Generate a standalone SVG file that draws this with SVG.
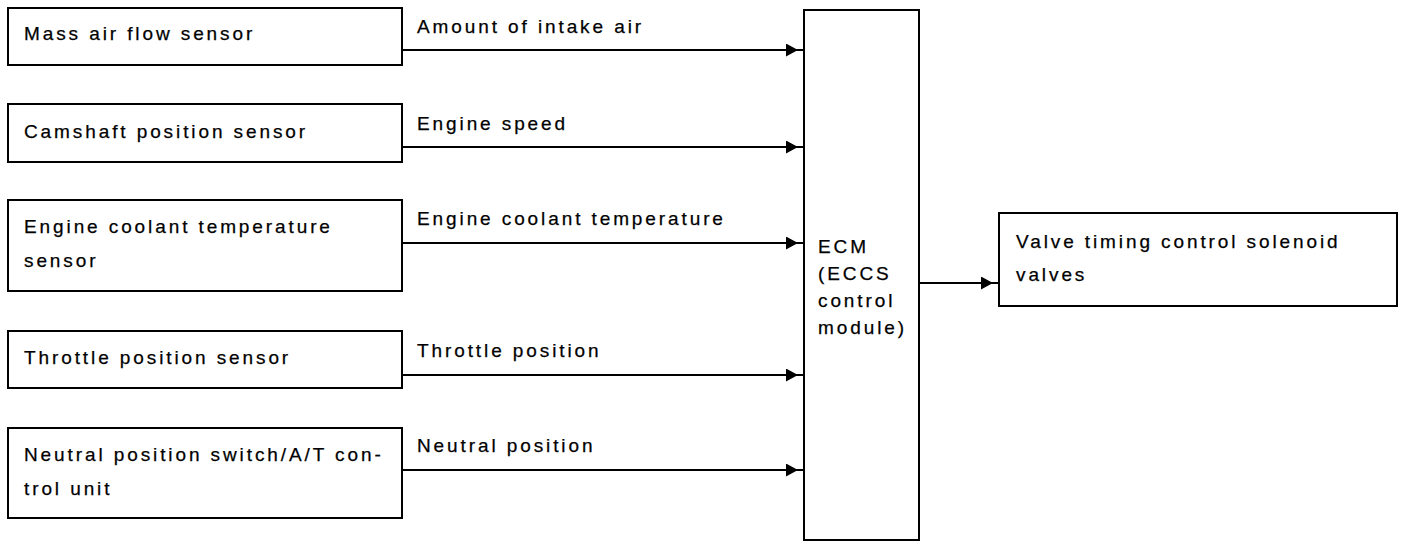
<svg xmlns="http://www.w3.org/2000/svg" width="1408" height="548" viewBox="0 0 1408 548">
<style>
.box{fill:#fff;stroke:#000;stroke-width:2}
.t{font-family:"Liberation Sans",Arial,sans-serif;font-size:19px;letter-spacing:2.9px;fill:#000;stroke:#000;stroke-width:0.25}
.c{fill:none;stroke:#000;stroke-width:2}
</style>
<defs>
<marker id="ah" markerUnits="userSpaceOnUse" markerWidth="20" markerHeight="14" refX="18" refY="6.5" orient="auto">
<path d="M0,0 L12,6.5 L0,13 z" fill="#000"/>
</marker>
</defs>
<rect width="1408" height="548" fill="#fff"/>
<g id="maf"><rect class="box" x="8" y="8" width="394" height="57"/><text class="t" x="24" y="40">Mass air flow sensor</text></g>
<g id="cmp"><rect class="box" x="8" y="104" width="394" height="58"/><text class="t" x="24" y="138">Camshaft position sensor</text></g>
<g id="ect"><rect class="box" x="8" y="200" width="394" height="91"/><text class="t" x="24" y="233">Engine coolant temperature</text><text class="t" x="24" y="267">sensor</text></g>
<g id="tps"><rect class="box" x="8" y="331" width="394" height="57"/><text class="t" x="24" y="364">Throttle position sensor</text></g>
<g id="nps"><rect class="box" x="8" y="428" width="394" height="90"/><text class="t" x="24" y="461">Neutral position switch/A/T con-</text><text class="t" x="24" y="495">trol unit</text></g>
<g id="ecm"><rect class="box" x="804" y="10" width="115" height="530"/>
<text class="t" x="818" y="253">ECM</text><text class="t" x="818" y="280">(ECCS</text><text class="t" x="818" y="307">control</text><text class="t" x="818" y="334">module)</text></g>
<g id="vtc"><rect class="box" x="999" y="213" width="398" height="93"/><text class="t" x="1016" y="248">Valve timing control solenoid</text><text class="t" x="1016" y="281">valves</text></g>
<g id="connectors">
<path class="c" d="M402,50 H804" marker-end="url(#ah)"/>
<path class="c" d="M402,147 H804" marker-end="url(#ah)"/>
<path class="c" d="M402,243 H804" marker-end="url(#ah)"/>
<path class="c" d="M402,375 H804" marker-end="url(#ah)"/>
<path class="c" d="M402,470 H804" marker-end="url(#ah)"/>
<path class="c" d="M919,283 H999" marker-end="url(#ah)"/>
<text class="t" x="417" y="33">Amount of intake air</text>
<text class="t" x="417" y="130">Engine speed</text>
<text class="t" x="417" y="225">Engine coolant temperature</text>
<text class="t" x="417" y="357">Throttle position</text>
<text class="t" x="417" y="452">Neutral position</text>
</g>
</svg>
